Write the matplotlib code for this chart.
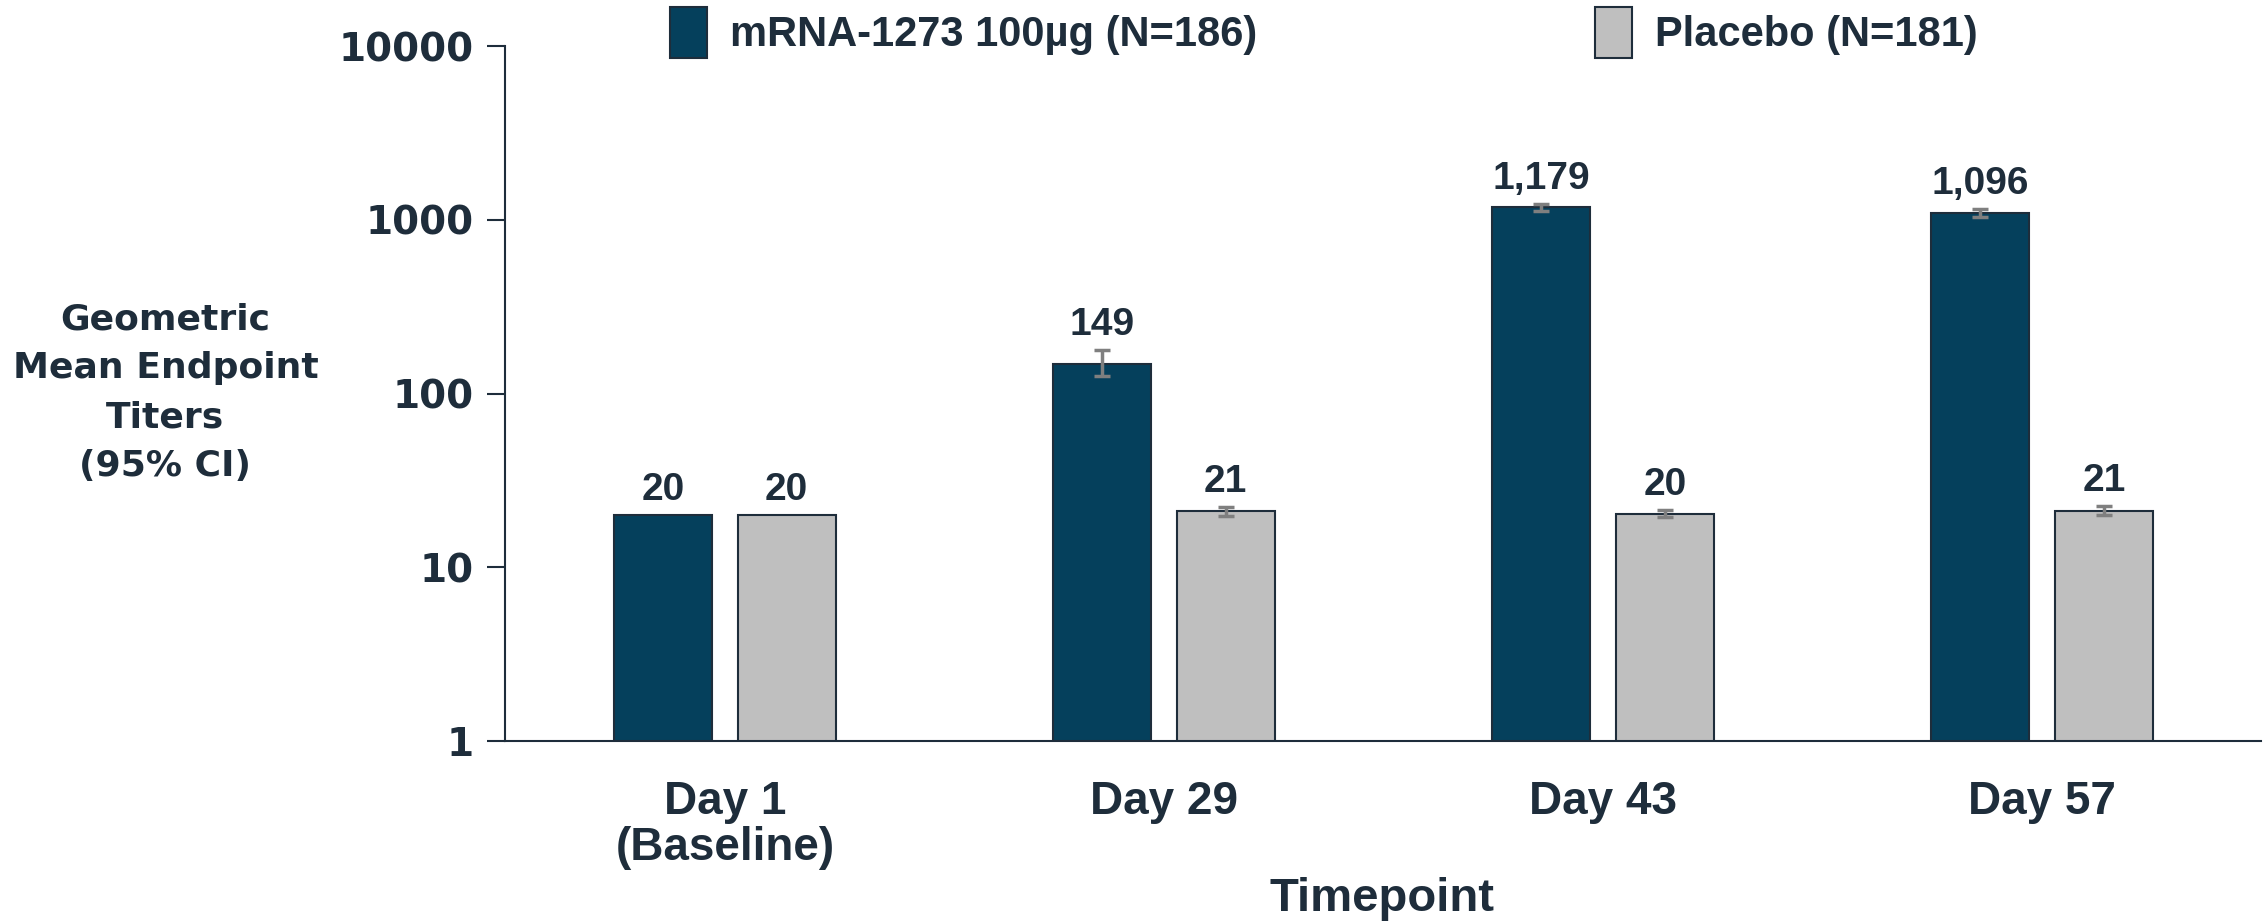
import numpy as np
import matplotlib
matplotlib.use("Agg")
import matplotlib.pyplot as plt
from matplotlib.ticker import FixedLocator, NullLocator

# data
timepoints = ["Day 1\n(Baseline)", "Day 29", "Day 43", "Day 57"]
mrna_gmt = [20, 149, 1179, 1096]
mrna_lo = [np.nan, 126, 1120, 1040]
mrna_hi = [np.nan, 178, 1240, 1155]
placebo_gmt = [20, 21, 20.4, 21.2]
placebo_lo = [np.nan, 19.8, 19.5, 19.9]
placebo_hi = [np.nan, 22.3, 21.4, 22.6]
mrna_labels = ["20", "149", "1,179", "1,096"]
placebo_labels = ["20", "21", "20", "21"]
series_names = ["mRNA-1273 100µg (N=186)", "Placebo (N=181)"]
yticks = [1, 10, 100, 1000, 10000]

navy = "#05405c"
grey = "#bfbfbf"
txt = "#1e2d3b"
errc = "#7f7f7f"
arial = ["Liberation Sans", "DejaVu Sans"]
wide = ["DejaVu Sans"]

fig = plt.figure(figsize=(22.66, 9.24), dpi=100)
ax = fig.add_axes([0.223, 0.198, 0.775, 0.752])

x = np.arange(len(timepoints))
w = 0.224
off = 0.141

def yerr(v, lo, hi):
    v, lo, hi = map(np.array, (v, lo, hi))
    return np.vstack([v - lo, hi - v])

ekw = dict(ecolor=errc, elinewidth=2.5, capsize=6, capthick=2.5)
ax.bar(x - off, mrna_gmt, w, color=navy, edgecolor=txt, linewidth=1.5,
       yerr=yerr(mrna_gmt, mrna_lo, mrna_hi), error_kw=ekw,
       label=series_names[0], zorder=2)
ax.bar(x + off, placebo_gmt, w, color=grey, edgecolor=txt, linewidth=1.5,
       yerr=yerr(placebo_gmt, placebo_lo, placebo_hi), error_kw=ekw,
       label=series_names[1], zorder=2)

# value labels sit above the CI cap (or the bar when there is no CI)
for xs, vals, his, labs in [(x - off, mrna_gmt, mrna_hi, mrna_labels),
                            (x + off, placebo_gmt, placebo_hi, placebo_labels)]:
    for xi, v, hi, lab in zip(xs, vals, his, labs):
        top = v if np.isnan(hi) else hi
        ax.annotate(lab, (xi, top), xytext=(0, 5), textcoords="offset points",
                    ha="center", va="bottom", fontsize=28, fontweight="bold",
                    color=txt, family=arial)

ax.set_yscale("log")
ax.set_ylim(1, 10000)
ax.set_xlim(-0.5, 3.5)
ax.yaxis.set_major_locator(FixedLocator(yticks))
ax.yaxis.set_minor_locator(NullLocator())
ax.set_yticklabels([str(t) for t in yticks], fontsize=28, fontweight="bold",
                   color=txt, family=wide)
ax.set_xticks(x)
ax.set_xticklabels(timepoints, fontsize=33, fontweight="bold", color=txt,
                   family=arial, linespacing=1.05)
ax.tick_params(axis="x", length=0, pad=28)
ax.tick_params(axis="y", length=13, width=1.5, color=txt, pad=10)

for s in ["top", "right"]:
    ax.spines[s].set_visible(False)
for s in ["left", "bottom"]:
    ax.spines[s].set_color(txt)
    ax.spines[s].set_linewidth(1.5)

fig.text(0.073, 0.575, "Geometric\nMean Endpoint\nTiters\n(95% CI)",
         ha="center", va="center", fontsize=26, fontweight="bold", color=txt,
         family=wide, linespacing=1.55)
fig.text(0.610, 0.027, "Timepoint", ha="center", va="center", fontsize=34,
         fontweight="bold", color=txt, family=arial)

leg = ax.legend(loc="center", bbox_to_anchor=(0.466, 1.02), ncol=2, frameon=False,
                columnspacing=8.1, handlelength=0.9, handleheight=1.5,
                handletextpad=0.55, prop=dict(family=arial, weight="bold", size=30))
for t in leg.get_texts():
    t.set_color(txt)

fig.savefig("out.png", dpi=100, facecolor="white")
